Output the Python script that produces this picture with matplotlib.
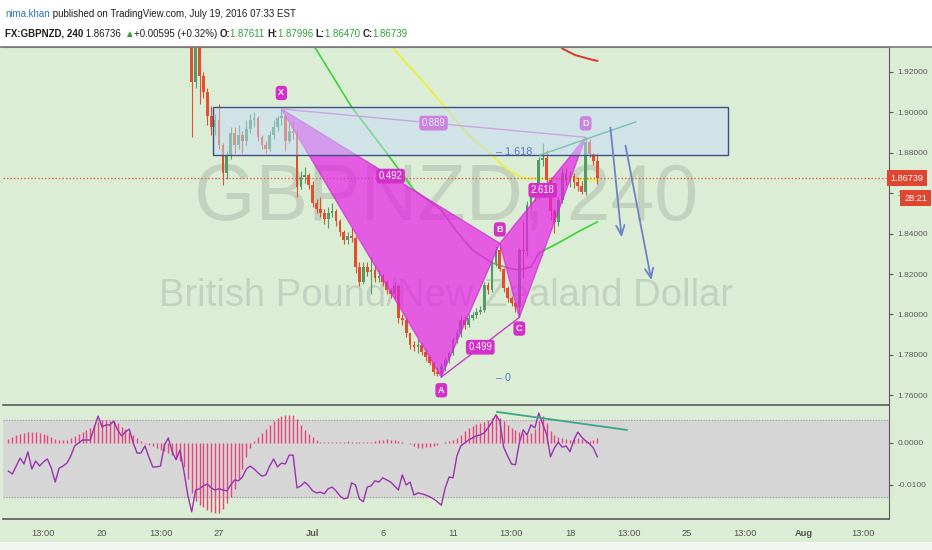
import numpy as np
import matplotlib
matplotlib.use('Agg')
import matplotlib.pyplot as plt
from matplotlib import font_manager
from matplotlib.patches import Rectangle, Polygon
from matplotlib.transforms import blended_transform_factory
from matplotlib.lines import Line2D

# ---------------- data ----------------
# 4h candles, bar 0 = Jun 20 00:00 (weekends skipped)
first_bar = 23
first_open = 1.945
closes = [1.915, 1.933, 1.918, 1.910, 1.898, 1.893, 1.896, 1.884, 1.870, 1.879,
          1.890, 1.884, 1.889, 1.886, 1.892, 1.896, 1.897, 1.888, 1.884, 1.882,
          1.889, 1.893, 1.897, 1.898, 1.886, 1.891, 1.890, 1.863, 1.868, 1.869,
          1.864, 1.855, 1.852, 1.850, 1.847, 1.850, 1.851, 1.846, 1.841, 1.837,
          1.839, 1.838, 1.8235, 1.816, 1.8235, 1.821, 1.822, 1.818, 1.819, 1.816,
          1.812, 1.810, 1.814, 1.798, 1.797, 1.7907, 1.7848, 1.7838, 1.7848, 1.7814,
          1.779, 1.776, 1.7715, 1.7705, 1.7745, 1.7774, 1.7809, 1.7873, 1.7908, 1.7972,
          1.7948, 1.7983, 1.7997, 1.8012, 1.8022, 1.8146, 1.8121, 1.8254, 1.8319, 1.8225,
          1.8131, 1.8081, 1.8057, 1.8037, 1.8319, 1.8312, 1.8541, 1.8616, 1.8591, 1.8764,
          1.8774, 1.8665, 1.8510, 1.8457, 1.8566, 1.8700, 1.8665, 1.8685, 1.8655, 1.8635,
          1.8606, 1.8855, 1.8796, 1.87611, 1.86739]
highs = [1.950, 1.940, 1.940, 1.920, 1.912, 1.903, 1.899, 1.904, 1.885, 1.881,
         1.893, 1.893, 1.894, 1.891, 1.896, 1.899, 1.900, 1.898, 1.889, 1.886,
         1.891, 1.896, 1.898, 1.9017, 1.898, 1.895, 1.896, 1.892, 1.871, 1.873,
         1.870, 1.866, 1.857, 1.858, 1.852, 1.853, 1.855, 1.852, 1.847, 1.842,
         1.841, 1.843, 1.839, 1.826, 1.826, 1.826, 1.8285, 1.824, 1.822, 1.820,
         1.817, 1.813, 1.816, 1.815, 1.800, 1.798, 1.791, 1.787, 1.788, 1.786,
         1.783, 1.780, 1.777, 1.774, 1.776, 1.779, 1.782, 1.789, 1.793, 1.799,
         1.799, 1.800, 1.801, 1.803, 1.804, 1.816, 1.816, 1.827, 1.834, 1.8352,
         1.823, 1.814, 1.809, 1.806, 1.833, 1.846, 1.856, 1.864, 1.863, 1.878,
         1.8848, 1.8815, 1.868, 1.852, 1.858, 1.8725, 1.8725, 1.871, 1.870, 1.868,
         1.866, 1.8877, 1.8870, 1.8800, 1.87996]
lows = [1.888, 1.912, 1.904, 1.907, 1.894, 1.889, 1.889, 1.882, 1.864, 1.867,
        1.877, 1.880, 1.882, 1.880, 1.884, 1.890, 1.893, 1.886, 1.882, 1.880,
        1.881, 1.887, 1.891, 1.894, 1.881, 1.885, 1.887, 1.858, 1.862, 1.865,
        1.862, 1.853, 1.850, 1.848, 1.845, 1.843, 1.848, 1.844, 1.839, 1.835,
        1.835, 1.836, 1.8205, 1.814, 1.815, 1.819, 1.810, 1.816, 1.816, 1.814,
        1.810, 1.808, 1.808, 1.796, 1.795, 1.789, 1.783, 1.782, 1.781, 1.780,
        1.777, 1.775, 1.770, 1.7695, 1.7690, 1.772, 1.776, 1.780, 1.786, 1.789,
        1.793, 1.794, 1.797, 1.798, 1.800, 1.801, 1.810, 1.811, 1.824, 1.8215,
        1.811, 1.806, 1.804, 1.801, 1.7985, 1.818, 1.829, 1.852, 1.856, 1.857,
        1.8735, 1.8640, 1.8467, 1.8403, 1.844, 1.855, 1.8640, 1.8630, 1.8625, 1.8610,
        1.8595, 1.859, 1.8780, 1.8740, 1.86470]
last_price = 1.86739

# moving averages (bar, price)
ma_slow_bars = [52, 55, 64, 73, 80, 87, 91, 95, 100, 105, 107, 110, 112, 117, 122, 127]
ma_slow = [1.9393, 1.9309, 1.9027, 1.8799, 1.8616, 1.8517, 1.8408, 1.8319, 1.8255,
           1.8225, 1.8220, 1.8235, 1.8304, 1.8354, 1.8408, 1.8458]
ma_mid_bars = [73, 75, 82, 89, 94, 100, 102, 105, 108, 114, 120, 127]
ma_mid = [1.9358, 1.9309, 1.9160, 1.9002, 1.8888, 1.8789, 1.8750, 1.8705, 1.8675,
          1.8670, 1.8670, 1.8665]
ma_fast_bars = [117.4, 118.2, 121.3, 125, 127]
ma_fast = [1.9329, 1.9314, 1.9284, 1.9264, 1.9255]

# harmonic pattern
pattern_names = ['X', 'A', 'B', 'C', 'D']
pattern_bars = [46, 87, 102, 107, 124]
pattern_prices = [1.9017, 1.7690, 1.8352, 1.7985, 1.8877]
ratio_pairs = [('X', 'B'), ('X', 'D'), ('A', 'C'), ('B', 'D')]
ratio_labels = ['0.492', '0.889', '0.499', '2.618']

# drawings
zone_bars = (28.5, 160.5)
zone_prices = (1.8789, 1.9027)
arrow_from = [(130.3, 1.8938), (134.1, 1.8849)]
arrow_to = [(133.3, 1.8368), (141.0, 1.8156)]
teal_bars = [112.3, 136.9]
teal_prices = [1.8789, 1.8953]
fib_levels = [('1.618', 101, 1.8806), ('0', 101, 1.7685)]

# oscillator pane (units of 1e-4), bar -24 .. 127
ind_first_bar = -24
hist_vals = [10, 14, 19, 21, 24, 26, 26, 26, 24, 21,
             19, 14, 10, 7, 7, 7, 12, 17, 21, 26,
             31, 36, 43, 50, 55, 55, 52, 52, 48, 38,
             33, 26, 19, 12, 5, -2, -5, -7, -12, -17,
             -19, -24, -29, -36, -43, -57, -86, -119, -138, -148,
             -152, -159, -164, -167, -167, -157, -143, -129, -109, -86,
             -62, -33, -12, 5, 14, 24, 33, 43, 52, 60,
             64, 67, 67, 67, 57, 43, 31, 21, 14, 7,
             2, 2, 2, 2, 2, 2, 2, 5, 2, 2,
             2, 2, 2, 2, 5, 7, 7, 10, 7, 7,
             5, 2, 0, -2, -7, -12, -12, -10, -10, -7,
             -5, 0, 2, 5, 7, 12, 19, 29, 36, 40,
             45, 48, 50, 55, 60, 67, 60, 52, 43, 36,
             31, 26, 24, 19, 24, 33, 52, 64, 48, 29,
             19, 14, 12, 10, 7, 10, 12, 10, 7, 5,
             7, 12]
osc_vals = [-67, -74, -55, -36, -50, -21, -62, -43, -55, -45,
            -38, -60, -93, -60, -55, -48, -31, -7, 0, 7,
            7, 7, 36, 64, 38, 43, 43, 52, 31, 17,
            26, 33, 0, -24, -24, -7, -33, -57, -57, -55,
            -5, 12, -21, -40, -17, -67, -124, -164, -112, -109,
            -102, -98, -107, -112, -109, -112, -114, -100, -88, -90,
            -81, -62, -55, -62, -71, -79, -76, -55, -38, -57,
            -48, -50, -29, -29, -107, -102, -93, -102, -114, -119,
            -117, -121, -109, -105, -114, -126, -133, -131, -95, -100,
            -133, -140, -105, -102, -90, -93, -83, -88, -93, -102,
            -112, -76, -100, -93, -124, -119, -121, -124, -128, -133,
            -140, -148, -107, -81, -83, -31, -7, 0, 7, 12,
            17, 19, 24, 36, 50, 67, 52, -10, -31, -50,
            -52, 0, 31, 19, 43, 36, 71, 45, 21, -33,
            -12, 2, -10, -7, -21, 7, 26, 14, 5, -2,
            -12, -33]
band_upper, band_lower = 55, -129
div_bars = [101.3, 134.6]
div_vals = [74, 31]

tick_bars = [-15, 0, 15, 30, 54, 72, 90, 105, 120, 135, 150, 165, 180, 195]
tick_labels = ['13:00', '20', '13:00', '27', 'Jul', '6', '11', '13:00', '18',
               '13:00', '25', '13:00', 'Aug', '13:00']
price_ticks = [1.76, 1.78, 1.80, 1.82, 1.84, 1.86, 1.88, 1.90, 1.92]

# ---------------- fonts ----------------
entries = font_manager.fontManager.ttflist
names = {f.name for f in entries}
if 'Liberation Sans Narrow' in names:
    NARROW, FS = 'Liberation Sans Narrow', 1.0
else:
    NARROW, FS = 'Liberation Sans', 0.86
FAM = [NARROW, 'DejaVu Sans']

# ---------------- style ----------------
BG = '#dcedd6'
UP = '#4f9c68'
DOWN = '#e0502f'
PINK = '#e81ee8'
LABEL_BG = '#d42fc8'
W, H = 932, 550

fig = plt.figure(figsize=(W / 100, H / 100), dpi=100)
fig.patch.set_facecolor('white')
fig.patches.append(Rectangle((0, 1 - 542 / H), 1, (542 - 47) / H, transform=fig.transFigure,
                             fc=BG, ec='none', zorder=-5))
fig.patches.append(Rectangle((0, 0), 1, 1 - 542 / H, transform=fig.transFigure,
                             fc='#f2f5f2', ec='none', zorder=-5))
fig.lines.append(Line2D([0, 1], [1 - 47 / H] * 2, transform=fig.transFigure,
                        color='#7a7a7a', lw=1.2, zorder=-4))

x_lo, x_hi = (3 - 102) / 3.9, (889 - 102) / 3.9
ax = fig.add_axes([3 / W, 1 - 405 / H, 886 / W, (405 - 47) / H])
ax2 = fig.add_axes([3 / W, 1 - 519 / H, 886 / W, (519 - 406) / H], sharex=ax)
for a in (ax, ax2):
    a.set_facecolor(BG)
    a.spines['left'].set_visible(False)
    a.spines['right'].set_color('#5a5a5a')
    a.spines['bottom'].set_color('#5a5a5a')
    a.spines['bottom'].set_linewidth(1.2)
ax.spines['top'].set_color('#7a7a7a')
ax2.spines['top'].set_visible(False)
ax.set_xlim(x_lo, x_hi)
ax.set_ylim(1.95564 - 405 * 0.000495, 1.95564 - 47 * 0.000495)

# watermark
ax.text(0.5, 0.573, 'GBPNZD, 240', transform=ax.transAxes, ha='center', va='center',
        fontsize=66 * FS, family=FAM, color='#8a968a', alpha=0.3, zorder=1)
ax.text(0.5, 0.304, 'British Pound/New Zealand Dollar', transform=ax.transAxes,
        ha='center', va='center', fontsize=32 * FS, family=FAM, color='#8a968a',
        alpha=0.3, zorder=1)

# candles
bars = np.arange(len(closes)) + first_bar
c = np.array(closes)
o = np.concatenate([[first_open], c[:-1]])
h = np.maximum(np.array(highs), np.maximum(o, c))
l = np.minimum(np.array(lows), np.minimum(o, c))
col = np.where(c >= o, UP, DOWN)
ax.vlines(bars, l, h, colors=col, lw=0.8, zorder=3)
ax.bar(bars, np.maximum(np.abs(c - o), 0.0004), bottom=np.minimum(o, c), width=0.7,
       color=col, linewidth=0, zorder=3)

# moving averages (slow one changes colour)
s_b, s_p = np.array(ma_slow_bars), np.array(ma_slow)
ax.plot(s_b[s_b <= 80], s_p[s_b <= 80], color='#3ad43a', lw=1.2, zorder=2.5)
mid = (s_b >= 80) & (s_b <= 112)
ax.plot(s_b[mid], s_p[mid], color='#8e968e', lw=1.2, zorder=2.5)
ax.plot(s_b[s_b >= 112], s_p[s_b >= 112], color='#3ad43a', lw=1.2, zorder=2.5)
ax.plot(ma_mid_bars, ma_mid, color='#eeee3a', lw=1.3, zorder=2.5)
ax.plot(ma_fast_bars, ma_fast, color='#e0352b', lw=1.4, zorder=2.5)

# current price line
ax.axhline(last_price, color='#e5603a', lw=1, ls=(0, (1, 1.5)), zorder=2.6)

# harmonic pattern
pt = {n: (b, p) for n, b, p in zip(pattern_names, pattern_bars, pattern_prices)}
for tri in (('X', 'A', 'B'), ('B', 'C', 'D')):
    ax.add_patch(Polygon([pt[n] for n in tri], closed=True, fc=PINK, ec='#cc2ccc',
                         alpha=0.7, lw=1, zorder=4))
ax.plot([pt['X'][0], pt['D'][0]], [pt['X'][1], pt['D'][1]], color='#d070d0', lw=1, zorder=4)
ax.plot([pt['A'][0], pt['C'][0]], [pt['A'][1], pt['C'][1]], color='#c83cc8', lw=1, zorder=4)
for (p1, p2), lab in zip(ratio_pairs, ratio_labels):
    mx = (pt[p1][0] + pt[p2][0]) / 2
    my = (pt[p1][1] + pt[p2][1]) / 2
    ax.text(mx, my, lab, ha='center', va='center', color='white', fontsize=8 * FS,
            family=FAM, zorder=4.5,
            bbox=dict(boxstyle='round,pad=0.25,rounding_size=0.3', fc=LABEL_BG, ec='none'))
offsets = {'X': 11.5, 'A': -9.5, 'B': 10, 'C': -8, 'D': 10}
for n in pattern_names:
    ax.annotate(n, pt[n], xytext=(0, offsets[n]), textcoords='offset points',
                ha='center', va='center', color='white', fontsize=7.5 * FS, family=FAM,
                fontweight='bold', zorder=4.5,
                bbox=dict(boxstyle='round,pad=0.3,rounding_size=0.4', fc=LABEL_BG, ec='none'))

# zone box
ax.add_patch(Rectangle((zone_bars[0], zone_prices[0]), zone_bars[1] - zone_bars[0],
                       zone_prices[1] - zone_prices[0], fc='#c6daf6', alpha=0.5,
                       ec='none', zorder=5))
ax.add_patch(Rectangle((zone_bars[0], zone_prices[0]), zone_bars[1] - zone_bars[0],
                       zone_prices[1] - zone_prices[0], fc='none', ec='#3f4f85',
                       lw=1, zorder=5.1))

# extra drawings
ax.plot(teal_bars, teal_prices, color='#78c2aa', lw=1, zorder=5.2)
for lab, b, p in fib_levels:
    ax.text(b, p, '\u2013 ' + lab, ha='left', va='center', color='#5b78c8',
            fontsize=9 * FS, family=FAM, zorder=5.2)
for s, e in zip(arrow_from, arrow_to):
    ax.annotate('', xy=e, xytext=s, zorder=5.2,
                arrowprops=dict(arrowstyle='->,head_length=0.7,head_width=0.3',
                                color='#6e82c8', lw=1.3))

# price axis
TICK_FS = 7 * FS
ax.yaxis.tick_right()
ax.set_yticks(price_ticks)
ax.set_yticklabels([f'{v:.5f}' for v in price_ticks])
ax.tick_params(axis='y', length=3, pad=3, colors='#5a5a5a', labelsize=TICK_FS)
for t in ax.get_yticklabels():
    t.set_family(FAM)
ax.tick_params(axis='x', bottom=False, labelbottom=False)

bt = blended_transform_factory(ax.transAxes, ax.transData)
ax.text(1.002, last_price, f'{last_price:.5f}', transform=bt, ha='left', va='center',
        color='white', fontsize=7.6 * FS, family=FAM, zorder=10, clip_on=False,
        bbox=dict(boxstyle='square,pad=0.4', fc='#e0452f', ec='none'))
ax.text(1.017, 1.8576, '28:21', transform=bt, ha='left', va='center',
        color='white', fontsize=7.6 * FS, family=FAM, zorder=10, clip_on=False,
        bbox=dict(boxstyle='square,pad=0.4', fc='#e0452f', ec='none'))

# oscillator pane
ax2.set_ylim(-181, 88)
ax2.axhspan(band_lower, band_upper, color='#d6d6d6', zorder=1)
for v in (band_lower, band_upper):
    ax2.axhline(v, color='#9a9a9a', lw=0.8, ls=(0, (1, 1.5)), zorder=1.5)
ib = np.arange(len(hist_vals)) + ind_first_bar
ax2.vlines(ib, 0, hist_vals, colors='#e8457a', lw=1, zorder=2)
ob = np.arange(len(osc_vals)) + ind_first_bar
ax2.plot(ob, osc_vals, color='#9a32b0', lw=1, zorder=3)
ax2.plot(div_bars, div_vals, color='#3aa58a', lw=1.3, zorder=3)
ax2.yaxis.tick_right()
ax2.set_yticks([0, -100])
ax2.set_yticklabels(['0.0000', '-0.0100'])
ax2.tick_params(axis='y', length=3, pad=3, colors='#5a5a5a', labelsize=TICK_FS)
ax2.set_xticks(tick_bars)
ax2.set_xticklabels(tick_labels)
ax2.tick_params(axis='x', length=0, pad=7, colors='#555555', labelsize=7.8 * FS)
for t in ax2.get_xticklabels() + ax2.get_yticklabels():
    t.set_family(FAM)
    if t.get_text() in ('Jul', 'Aug'):
        t.set_fontweight('bold')
ax2.set_xlim(x_lo, x_hi)

# header
renderer = fig.canvas.get_renderer()


def draw_runs(x_px, y_px, runs, size):
    x = x_px
    for txt, color, weight in runs:
        t = fig.text(x / W, 1 - y_px / H, txt, color=color, fontsize=size * FS,
                     fontweight=weight, family=FAM, ha='left', va='baseline')
        x += t.get_window_extent(renderer=renderer).width


GREEN_TXT = '#2f9e3a'
DARK = '#1e1e1e'
HEAD_FS = 8.2
draw_runs(5, 17, [('nima.khan', '#2a78c0', 'normal'),
                  (' published on TradingView.com, July 19, 2016 07:33 EST', DARK, 'normal')],
          HEAD_FS)
draw_runs(5, 37, [('FX:GBPNZD, 240', DARK, 'bold'), (' 1.86736 ', DARK, 'normal'),
                  ('\u25b2', GREEN_TXT, 'normal'), ('+0.00595 (+0.32%) ', DARK, 'normal'),
                  ('O:', DARK, 'bold'), ('1.87611 ', GREEN_TXT, 'normal'),
                  ('H:', DARK, 'bold'), ('1.87996 ', GREEN_TXT, 'normal'),
                  ('L:', DARK, 'bold'), ('1.86470 ', GREEN_TXT, 'normal'),
                  ('C:', DARK, 'bold'), ('1.86739', GREEN_TXT, 'normal')], HEAD_FS)

fig.savefig('out.png', dpi=100)
